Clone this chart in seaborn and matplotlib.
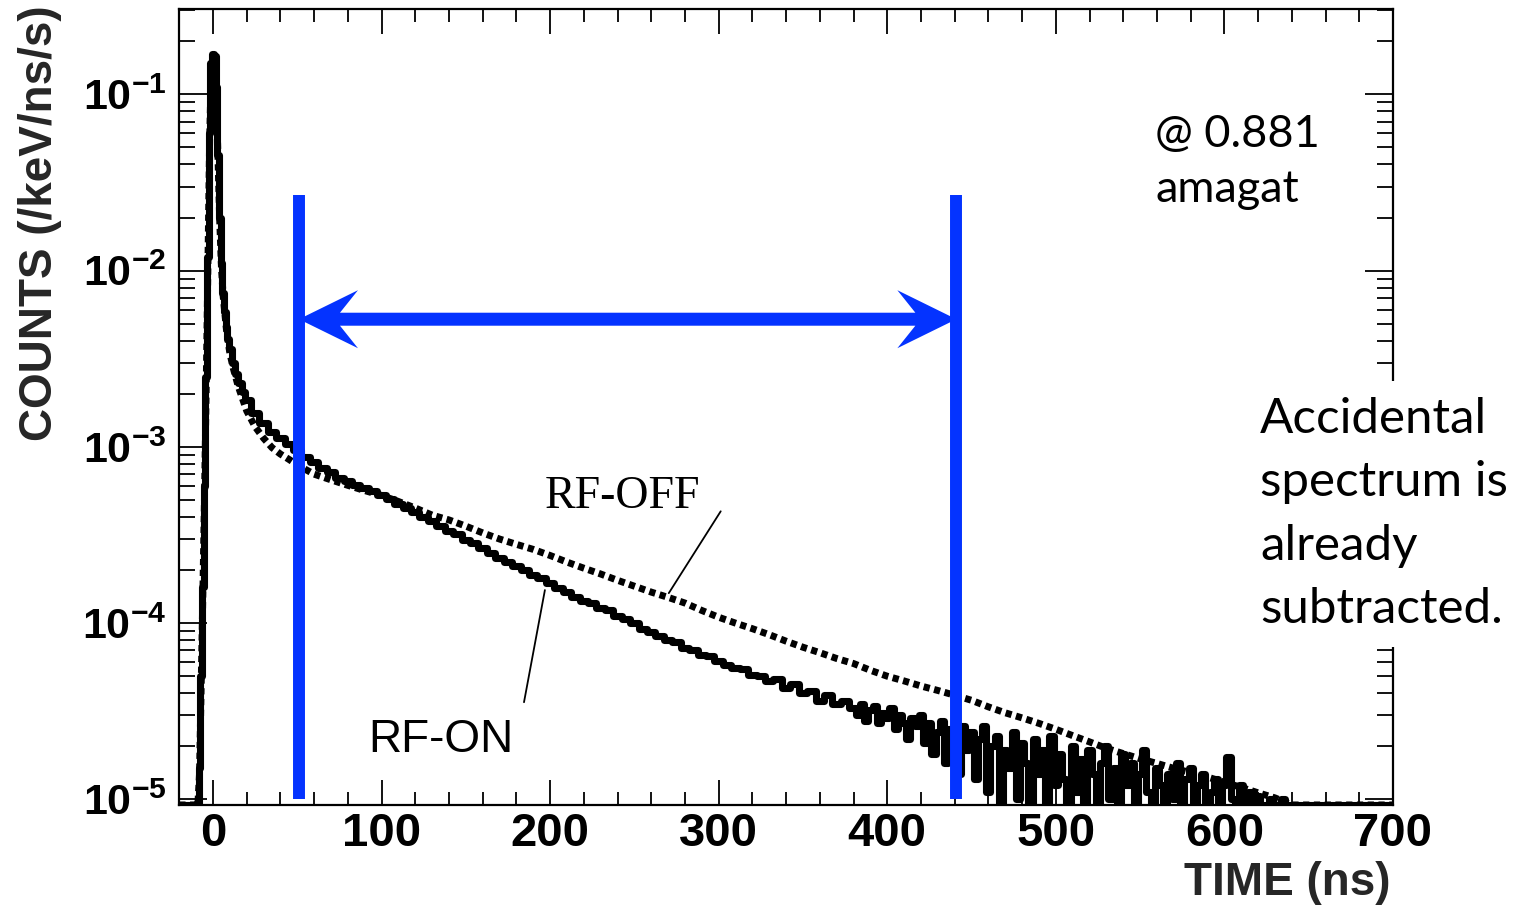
import numpy as np
import pandas as pd
import matplotlib
matplotlib.use("Agg")
import matplotlib.pyplot as plt
from matplotlib.patches import Polygon
from matplotlib.transforms import IdentityTransform
from matplotlib.ticker import MultipleLocator, LogLocator, NullFormatter, FixedLocator
import seaborn as sns

# ---------------- data ----------------
rf_on_time = ([-20, -15, -10, -9, -8, -7, -6, -5, -4, -3, -2, -1, 0, 1, 2, 3, 4, 5, 6, 7, 8, 9,
               10, 12, 14, 16, 18, 20]
              + list(range(25, 380, 5))
              + list(np.arange(380, 642.5, 2.5))
              + list(range(645, 705, 5)))
rf_on_counts = [
    0, 0, 0, 0, 1.5e-5, 5e-5, 1.6e-4, 6e-4, 2.5e-3, 1.2e-2, 6e-2, 0.15, 0.17, 0.165, 0.11, 0.045,
    0.02, 0.011, 7.5e-3, 5.8e-3, 4.8e-3, 4.1e-3, 3.6e-3, 3.0e-3, 2.6e-3, 2.3e-3, 2.05e-3, 1.85e-3,
    # 25 .. 120 (5 ns)
    1.56e-3, 1.37e-3, 1.22e-3, 1.12e-3, 1.04e-3, 9.6e-4, 8.8e-4, 8.2e-4, 7.6e-4, 7.2e-4,
    6.7e-4, 6.4e-4, 6.1e-4, 5.85e-4, 5.6e-4, 5.35e-4, 5.05e-4, 4.75e-4, 4.5e-4, 4.25e-4,
    # 125 .. 220
    4.0e-4, 3.8e-4, 3.55e-4, 3.35e-4, 3.2e-4, 2.98e-4, 2.85e-4, 2.68e-4, 2.5e-4, 2.35e-4,
    2.22e-4, 2.1e-4, 2.0e-4, 1.88e-4, 1.8e-4, 1.7e-4, 1.58e-4, 1.5e-4, 1.4e-4, 1.33e-4,
    # 225 .. 320
    1.3e-4, 1.22e-4, 1.18e-4, 1.1e-4, 1.05e-4, 1.0e-4, 9.3e-5, 8.9e-5, 8.5e-5, 8.0e-5,
    7.8e-5, 7.2e-5, 7.0e-5, 6.6e-5, 6.5e-5, 6.1e-5, 5.8e-5, 5.6e-5, 5.5e-5, 5.1e-5,
    # 325 .. 375
    5.0e-5, 4.7e-5, 4.8e-5, 4.3e-5, 4.5e-5, 4.0e-5, 4.1e-5, 3.6e-5, 3.9e-5, 3.5e-5, 3.6e-5,
    # 380 .. 402.5 (2.5 ns)
    3.3e-5, 3.0e-5, 3.5e-5, 2.8e-5, 3.2e-5, 3.4e-5, 2.7e-5, 3.1e-5, 2.9e-5, 3.3e-5,
    # 405 .. 427.5
    2.5e-5, 3.0e-5, 2.7e-5, 2.2e-5, 2.9e-5, 2.6e-5, 3.0e-5, 2.1e-5, 2.7e-5, 1.8e-5,
    # 430 .. 452.5
    2.4e-5, 2.8e-5, 1.6e-5, 2.5e-5, 2.2e-5, 1.4e-5, 2.6e-5, 1.9e-5, 2.4e-5, 1.3e-5,
    # 455 .. 477.5
    2.2e-5, 2.6e-5, 1.1e-5, 2.0e-5, 2.3e-5, 0, 1.9e-5, 1.5e-5, 2.4e-5, 1.0e-5,
    # 480 .. 502.5
    2.1e-5, 1.6e-5, 0, 2.2e-5, 1.4e-5, 1.9e-5, 0, 2.3e-5, 1.2e-5, 1.8e-5,
    # 505 .. 527.5
    1.3e-5, 0, 2.0e-5, 1.1e-5, 1.7e-5, 0, 1.9e-5, 1.4e-5, 0, 1.6e-5,
    # 530 .. 552.5
    2.0e-5, 1.0e-5, 1.5e-5, 0, 1.8e-5, 1.2e-5, 1.6e-5, 0, 1.4e-5, 1.9e-5,
    # 555 .. 577.5
    1.1e-5, 0, 1.5e-5, 1.2e-5, 0, 1.4e-5, 1.0e-5, 1.6e-5, 0, 1.3e-5,
    # 580 .. 602.5
    1.5e-5, 0, 1.2e-5, 1.4e-5, 0, 1.1e-5, 1.3e-5, 0, 1.2e-5, 1.75e-5,
    # 605 .. 627.5
    1.0e-5, 0, 1.2e-5, 0, 1.1e-5, 0, 1.05e-5, 0, 0, 1.0e-5,
    # 630 .. 640
    0, 0, 1.0e-5, 0, 0,
    # 645 .. 700 (5 ns)
    0, 0, 0, 0, 0, 0, 0, 0, 0, 0, 0, 0,
]
rf_off_time = ([-20, -9, -8, -7, -6, -5, -4, -3, -2, -1, 0, 1, 2, 3, 4, 5, 6, 8, 10, 12, 15,
                20, 25, 30, 35, 40, 45, 50] + list(range(60, 710, 10)))
rf_off_counts = [
    0, 0, 1.4e-5, 4.5e-5, 1.5e-4, 5.5e-4, 2.3e-3, 1.1e-2, 5.5e-2, 0.14, 0.16, 0.155, 0.1, 0.042,
    0.019, 0.0105, 7.2e-3, 4.6e-3, 3.4e-3, 2.8e-3, 2.2e-3, 1.6e-3, 1.3e-3, 1.12e-3, 9.9e-4,
    9.1e-4, 8.5e-4, 7.9e-4,
    # 60 .. 150
    7.0e-4, 6.5e-4, 6.05e-4, 5.65e-4, 5.3e-4, 4.9e-4, 4.5e-4, 4.1e-4, 3.85e-4, 3.55e-4,
    # 160 .. 250
    3.25e-4, 3.0e-4, 2.8e-4, 2.62e-4, 2.42e-4, 2.22e-4, 2.05e-4, 1.9e-4, 1.75e-4, 1.62e-4,
    # 260 .. 350
    1.5e-4, 1.4e-4, 1.3e-4, 1.18e-4, 1.08e-4, 1.0e-4, 9.3e-5, 8.6e-5, 7.9e-5, 7.3e-5,
    # 360 .. 450
    6.8e-5, 6.3e-5, 5.9e-5, 5.4e-5, 5.0e-5, 4.7e-5, 4.4e-5, 4.15e-5, 3.9e-5, 3.65e-5,
    # 460 .. 550
    3.35e-5, 3.1e-5, 2.9e-5, 2.7e-5, 2.5e-5, 2.3e-5, 2.12e-5, 1.95e-5, 1.82e-5, 1.7e-5,
    # 560 .. 650
    1.6e-5, 1.5e-5, 1.42e-5, 1.34e-5, 1.25e-5, 1.17e-5, 1.09e-5, 1.02e-5, 0, 0,
    # 660 .. 700
    0, 0, 0, 0, 0,
]
assert len(rf_on_time) == len(rf_on_counts)
assert len(rf_off_time) == len(rf_off_counts)

x_ticks = [0, 100, 200, 300, 400, 500, 600, 700]
y_ticks = [1e-5, 1e-4, 1e-3, 1e-2, 1e-1]
x_limits = (-20, 700)
y_limits = (9.3e-6, 0.305)

window_edges = [51, 441]          # blue fit-window lines (ns)
window_top = 2.7e-2
window_bottom = 1.0e-5
arrow_level = 5.3e-3

BLUE = "#0433ff"

# ---------------- style ----------------
sns.set_theme(style="ticks")
plt.rcParams["font.family"] = ["Liberation Sans", "DejaVu Sans"]
plt.rcParams["font.weight"] = "bold"
plt.rcParams["axes.labelweight"] = "bold"
plt.rcParams["mathtext.fontset"] = "custom"
plt.rcParams["mathtext.default"] = "regular"
plt.rcParams["mathtext.rm"] = "Liberation Sans:bold"
plt.rcParams["mathtext.it"] = "Liberation Sans:bold:italic"
plt.rcParams["mathtext.bf"] = "Liberation Sans:bold"
plt.rcParams["axes.edgecolor"] = "black"
plt.rcParams["text.color"] = "black"
plt.rcParams["xtick.color"] = "black"
plt.rcParams["ytick.color"] = "black"

fig = plt.figure(figsize=(15.22, 9.07), dpi=100)
ax = fig.add_axes([0.1178, 0.1125, 0.7974, 0.8776])
ax.set_yscale("log")
ax.set_xlim(*x_limits)
ax.set_ylim(*y_limits)

floor = y_limits[0]
on_df = pd.DataFrame({"time": rf_on_time,
                      "counts": np.where(np.array(rf_on_counts) > 0, rf_on_counts, floor)})
off_df = pd.DataFrame({"time": rf_off_time,
                       "counts": np.where(np.array(rf_off_counts) > 0, rf_off_counts, floor)})

sns.lineplot(data=off_df, x="time", y="counts", ax=ax, estimator=None, sort=False,
             color="black", lw=5.0, linestyle=(0, (0.9, 0.65)), zorder=3)
sns.lineplot(data=on_df, x="time", y="counts", ax=ax, estimator=None, sort=False,
             color="black", lw=5.1, drawstyle="steps-mid", zorder=3.2)

ax.set_xlim(*x_limits)
ax.set_ylim(*y_limits)

# ---------------- axes / ticks ----------------
for s in ax.spines.values():
    s.set_linewidth(1.6)
    s.set_color("black")
ax.xaxis.set_major_locator(FixedLocator(x_ticks))
ax.xaxis.set_minor_locator(MultipleLocator(20))
ax.yaxis.set_major_locator(FixedLocator(y_ticks))
ax.yaxis.set_minor_locator(LogLocator(base=10, subs=np.arange(2, 10)))
ax.yaxis.set_minor_formatter(NullFormatter())
ax.tick_params(which="both", direction="in", top=True, right=True, width=1.3, colors="black")
ax.tick_params(axis="x", which="major", length=18, labelsize=34, pad=5)
ax.tick_params(axis="x", which="minor", length=9.5)
ax.tick_params(axis="y", which="major", length=20, labelsize=31, pad=9)
ax.tick_params(axis="y", which="minor", length=11.5)

ax.set_ylabel("COUNTS (/keV/ns/s)", fontsize=33, loc="top")
ax.yaxis.set_label_coords(-0.0966, 1.005)
ax.set_xlabel("TIME (ns)", fontsize=33, loc="right")
ax.xaxis.set_label_coords(0.998, -0.071)

# ---------------- fit window (blue) ----------------
ax.vlines(window_edges, window_bottom, window_top, colors=BLUE, lw=8.6, zorder=5,
          capstyle="butt")


def double_arrow(ax, x0, x1, y, color, head_len=59, head_half=29, notch=41, shaft_half=6.5):
    (p0x, py), (p1x, _) = ax.transData.transform([(x0, y), (x1, y)])
    pts = [(p0x, py), (p0x + head_len, py + head_half), (p0x + notch, py + shaft_half),
           (p1x - notch, py + shaft_half), (p1x - head_len, py + head_half), (p1x, py),
           (p1x - head_len, py - head_half), (p1x - notch, py - shaft_half),
           (p0x + notch, py - shaft_half), (p0x + head_len, py - head_half)]
    poly = Polygon(pts, closed=True, facecolor=color, edgecolor="none",
                   transform=IdentityTransform(), zorder=4.5, clip_on=False)
    ax.add_artist(poly)


double_arrow(ax, window_edges[0], window_edges[1], arrow_level, BLUE)

# ---------------- annotations ----------------
ax.text(197, 4.51e-4, "RF-OFF", family=["Liberation Serif"], fontsize=33, fontweight="normal",
        va="baseline", ha="left", zorder=6)
ax.annotate("", xy=(270.4, 1.48e-4), xytext=(301.2, 4.31e-4),
            arrowprops=dict(arrowstyle="-", lw=1.3, color="black", shrinkA=0, shrinkB=0))
ax.text(92, 1.85e-5, "RF-ON", fontsize=33, fontweight="normal", va="baseline", ha="left",
        zorder=6)
ax.annotate("", xy=(196.9, 1.54e-4), xytext=(184.5, 3.56e-5),
            arrowprops=dict(arrowstyle="-", lw=1.3, color="black", shrinkA=0, shrinkB=0))

ax.text(0.804, 0.8675, "@ 0.881\namagat", transform=ax.transAxes, family=["Lato", "DejaVu Sans"],
        fontsize=32.5, fontweight="normal", ha="left", va="top", linespacing=1.42, zorder=6)

ax.text(0.8904, 0.512, "Accidental\nspectrum is\nalready\nsubtracted.", transform=ax.transAxes,
        family=["Lato", "DejaVu Sans"], fontsize=35.5, fontweight="normal", ha="left", va="top",
        linespacing=1.53, zorder=10, clip_on=False,
        bbox=dict(facecolor="white", edgecolor="none", pad=12))

fig.savefig("out.png", dpi=100, facecolor="white")
